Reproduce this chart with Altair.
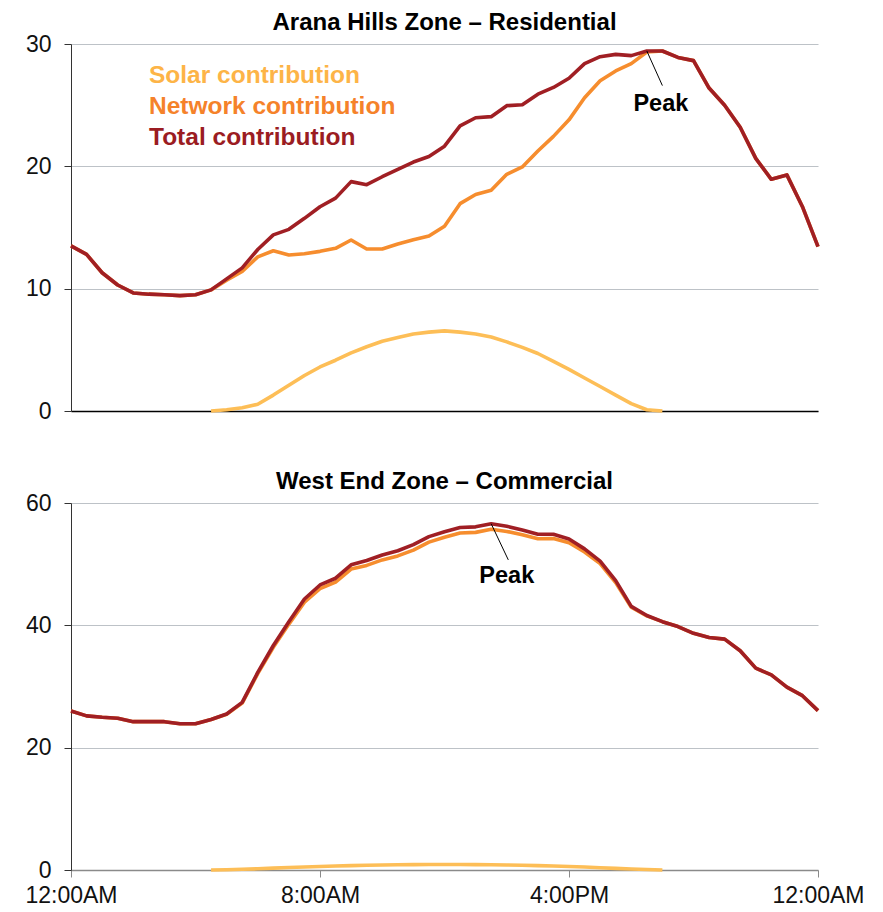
import altair as alt
import pandas as pd

# half-hourly time axis, in hours after midnight
HOURS = [i * 0.5 for i in range(49)]
TICK_HOURS = [0, 8, 16, 24]
TICK_LABELS = ["12:00AM", "8:00AM", "4:00PM", "12:00AM"]

SERIES = ["Solar contribution", "Network contribution", "Total contribution"]
COLORS = ["#FDBE57", "#F68D2E", "#A01F24"]
TEXT_COLORS = ["#FDB447", "#F5822A", "#9B1C22"]

# ---- Arana Hills Zone - Residential ----
res_total = [13.5, 12.8, 11.3, 10.3, 9.65, 9.55, 9.5, 9.43, 9.5, 9.9,
             10.8, 11.7, 13.2, 14.4, 14.85, 15.75, 16.7, 17.4, 18.75, 18.5,
             19.15, 19.75, 20.35, 20.8, 21.65, 23.3, 23.97, 24.06, 24.96, 25.04,
             25.9, 26.45, 27.2, 28.4, 28.96, 29.15, 29.05, 29.43, 29.43, 28.9,
             28.64, 26.4, 25.0, 23.2, 20.65, 18.94, 19.3, 16.7, 13.43]
res_network = [13.5, 12.8, 11.3, 10.3, 9.65, 9.55, 9.5, 9.43, 9.5, 9.9,
               10.7, 11.4, 12.6, 13.1, 12.75, 12.85, 13.05, 13.3, 13.98, 13.24,
               13.24, 13.65, 14.0, 14.3, 15.1, 16.95, 17.7, 18.05, 19.35, 19.95,
               21.25, 22.45, 23.8, 25.6, 27.0, 27.8, 28.4, 29.35, 29.43, 28.9,
               28.64, 26.4, 25.0, 23.2, 20.65, 18.94, 19.3, 16.7, 13.43]
res_solar = ([None] * 9 +
             [0.0, 0.1, 0.27, 0.55, 1.3, 2.1, 2.9, 3.6, 4.15, 4.75,
              5.25, 5.7, 6.0, 6.3, 6.45, 6.55, 6.45, 6.3, 6.05, 5.65,
              5.2, 4.7, 4.05, 3.4, 2.7, 2.0, 1.3, 0.6, 0.1, 0.0] +
             [None] * 10)
res_peak = {"hour": 18.5, "value": 29.43, "label_hour": 18.95, "label_value": 25.1,
            "lead_hour": 19.0, "lead_value": 26.6}

# ---- West End Zone - Commercial ----
com_total = [26.0, 25.2, 24.96, 24.8, 24.25, 24.25, 24.25, 23.9, 23.9, 24.6,
             25.5, 27.4, 32.3, 36.7, 40.6, 44.3, 46.6, 47.7, 49.9, 50.6,
             51.5, 52.2, 53.2, 54.5, 55.3, 56.0, 56.1, 56.6, 56.2, 55.6,
             54.9, 54.9, 54.1, 52.5, 50.5, 47.3, 43.1, 41.6, 40.6, 39.8,
             38.7, 38.0, 37.75, 35.85, 33.0, 31.9, 29.9, 28.5, 26.05]
com_network = [26.0, 25.2, 24.96, 24.8, 24.25, 24.25, 24.25, 23.9, 23.9, 24.6,
               25.45, 27.28, 32.1, 36.4, 40.2, 43.8, 46.0, 47.05, 49.2, 49.8,
               50.7, 51.35, 52.3, 53.6, 54.4, 55.1, 55.2, 55.7, 55.35, 54.8,
               54.15, 54.2, 53.5, 52.0, 50.1, 47.0, 42.95, 41.55, 40.6, 39.8,
               38.7, 38.0, 37.75, 35.85, 33.0, 31.9, 29.9, 28.5, 26.05]
com_solar = ([None] * 9 +
             [0.0, 0.05, 0.12, 0.2, 0.3, 0.4, 0.5, 0.58, 0.65, 0.72,
              0.78, 0.82, 0.86, 0.88, 0.9, 0.9, 0.9, 0.88, 0.86, 0.82,
              0.78, 0.72, 0.66, 0.58, 0.48, 0.38, 0.27, 0.16, 0.07, 0.0] +
             [None] * 10)
com_peak = {"hour": 13.5, "value": 56.6, "label_hour": 14.0, "label_value": 48.0,
            "lead_hour": 14.05, "lead_value": 50.7}

FONT = "Liberation Sans"
W, H = 747, 367

label_expr = ""
for hv, lab in zip(TICK_HOURS, TICK_LABELS):
    label_expr += f"datum.value == {hv} ? '{lab}' : "
label_expr += "''"


def panel(title, total, network, solar, ymax, ystep, peak, bottom, legend):
    df = pd.DataFrame({"hour": HOURS, "total": total,
                       "network": network, "solar": solar})
    if bottom:
        xaxis = alt.Axis(values=TICK_HOURS, labelExpr=label_expr, grid=False,
                         ticks=True, tickSize=7, tickColor="#8A8A8A",
                         domainColor="#8A8A8A", domainWidth=1.5,
                         labelFontSize=23, labelColor="#111111",
                         labelPadding=7, labelFlush=False, title=None)
    else:
        xaxis = alt.Axis(values=TICK_HOURS, labels=False, ticks=False,
                         grid=False, domainColor="#000000", domainWidth=1.5,
                         title=None)
    x = alt.X("hour:Q", scale=alt.Scale(domain=[0, 24], nice=False, zero=False),
              axis=xaxis)
    yaxis = alt.Axis(values=list(range(0, ymax + 1, ystep)), grid=True,
                     gridColor="#BDC2C7", gridWidth=1.2, tickSize=7,
                     tickColor="#333333", domainColor="#333333",
                     labelFontSize=23, labelColor="#111111", labelPadding=13,
                     title=None)
    base = alt.Chart(df)
    layers = []
    for col, colr in zip(["solar", "network", "total"], COLORS):
        layers.append(
            base.mark_line(color=colr, strokeWidth=3.6, strokeJoin="round")
            .encode(x=x, y=alt.Y(f"{col}:Q",
                                 scale=alt.Scale(domain=[0, ymax], nice=False),
                                 axis=yaxis))
        )
    pk = pd.DataFrame([peak])
    layers.append(
        alt.Chart(pk).mark_rule(color="#000000", strokeWidth=1)
        .encode(x="hour:Q", y="value:Q", x2="lead_hour:Q", y2="lead_value:Q")
    )
    layers.append(
        alt.Chart(pk).mark_text(text="Peak", font=FONT, fontSize=23.5,
                                fontWeight="bold", color="#000000",
                                align="center", baseline="middle")
        .encode(x="label_hour:Q", y="label_value:Q")
    )
    if legend:
        for k, (name, tc) in enumerate(zip(SERIES, TEXT_COLORS)):
            layers.append(
                alt.Chart(pd.DataFrame({"t": [name]}))
                .mark_text(font=FONT, fontSize=24.5, fontWeight="bold", color=tc,
                           align="left", baseline="alphabetic")
                .encode(text="t:N", x=alt.value(78), y=alt.value(39 + 31 * k))
            )
    return alt.layer(*layers).properties(
        width=W, height=H,
        title=alt.TitleParams(title, fontSize=24, fontWeight="bold", font=FONT,
                              anchor="middle", frame="group", offset=-2,
                              color="#000000"),
    )


top = panel("Arana Hills Zone \u2013 Residential", res_total, res_network,
            res_solar, 30, 10, res_peak, False, True)
bot = panel("West End Zone \u2013 Commercial", com_total, com_network,
            com_solar, 60, 20, com_peak, True, False)

chart = (
    alt.vconcat(top, bot, spacing=47)
    .properties(padding={"left": 16, "top": 3, "right": 0, "bottom": 0})
    .configure(font=FONT)
    .configure_view(stroke=None)
)

chart.save("out.html", embed_options={"renderer": "svg", "actions": False})
